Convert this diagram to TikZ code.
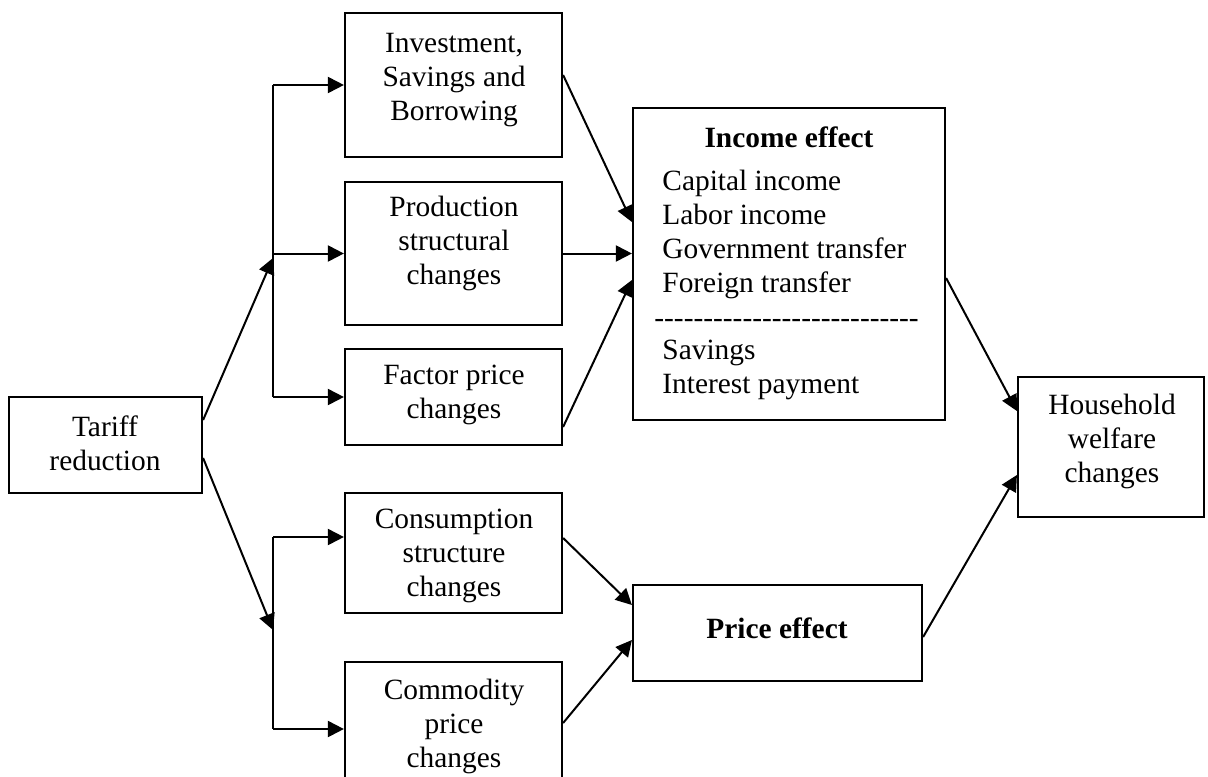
\documentclass[tikz,border=0pt]{standalone}
\usepackage{fontspec}
\setmainfont{Liberation Serif}
\usetikzlibrary{arrows.meta,fit}
\newcommand\hy{\hbox{-}}
\begin{document}
\begin{tikzpicture}[x=0.5pt,y=-0.5pt,
  box/.style={draw,line width=1.1pt,inner sep=0pt},
  lbl/.style={font=\fontsize{14.7}{17}\selectfont,align=center,inner sep=0pt},
  lblL/.style={font=\fontsize{14.7}{17}\selectfont,align=left,inner sep=0pt,anchor=west},
  ln/.style={line width=1pt},
  arr/.style={line width=1pt,-{Triangle[length=8pt,width=8pt]}}]
\clip (0,0) rectangle (1208,776);
% boxes
\node[box,fit={(9,397)(202,493)}] (tar) {};
\node[box,fit={(345,13)(562,157)}] (inv) {};
\node[box,fit={(345,182)(562,325)}] (prod) {};
\node[box,fit={(345,349)(562,445)}] (fac) {};
\node[box,fit={(345,493)(562,613)}] (con) {};
\node[box,fit={(345,662)(562,800)}] (com) {};
\node[box,fit={(633,108)(945,420)}] (inc) {};
\node[box,fit={(633,585)(922,681)}] (pri) {};
\node[box,fit={(1018,377)(1204,517)}] (hh) {};
% texts
\node[lbl] (tart) at (105,443.5) {Tariff\\reduction};
\node[lbl] (invt) at (454,80) {Investment,\\Savings and\\Borrowing};
\node[lbl] (prodt) at (454,243) {Production\\structural\\changes};
\node[lbl] (fact) at (454,395) {Factor price\\changes};
\node[lbl] (cont) at (454,556) {Consumption\\structure\\changes};
\node[lbl] (comt) at (454,726) {Commodity\\price\\changes};
\node[lbl] (inch) at (789,137) {\textbf{Income effect}};
\node[lblL] (inc1) at (662,234) {Capital income\\Labor income\\Government transfer\\Foreign transfer};
\node[lbl,anchor=base west] (incd) at (654,327) {\hy\hy\hy\hy\hy\hy\hy\hy\hy\hy\hy\hy\hy\hy\hy\hy\hy\hy\hy\hy\hy\hy\hy\hy\hy\hy\hy};
\node[lblL] (inc2) at (662,370) {Savings\\Interest payment};
\node[lbl] (prit) at (777,628) {\textbf{Price effect}};
\node[lbl] (hht) at (1112,441) {Household\\welfare\\changes};
% trunk coordinates
\coordinate (trA) at (273,85);
\coordinate (trP) at (273,253.5);
\coordinate (trB) at (273,397);
\coordinate (trC) at (273,537);
\coordinate (trD) at (273,729);
\coordinate (tipU) at (273,258);
\coordinate (tipL) at (273,630);
% trunks
\draw[ln] (trA) -- (trB);
\draw[ln] (trC) -- (trD);
\draw[arr] (trA) -- (inv.west |- trA);
\draw[arr] (trP) -- (prod.west |- trP);
\draw[arr] (trB) -- (fac.west |- trB);
\draw[arr] (trC) -- (con.west |- trC);
\draw[arr] (trD) -- (com.west |- trD);
% from tariff
\draw[arr] ([yshift=12.5pt]tar.east) -- (tipU);
\draw[arr] ([yshift=-6.5pt]tar.east) -- (tipL);
% to income
\draw[arr] ([yshift=5pt]inv.east) -- ([yshift=21pt]inc.west);
\draw[arr] (prod.east) -- (inc.west |- prod.east);
\draw[arr] ([yshift=-15pt]fac.east) -- ([yshift=-8pt]inc.west);
% to price
\draw[arr] ([yshift=7.5pt]con.east) -- ([yshift=14pt]pri.west);
\draw[arr] ([yshift=4pt]com.east) -- ([yshift=-3.5pt]pri.west);
% to household
\draw[arr] ([yshift=-7pt]inc.east) -- ([yshift=18pt]hh.west);
\draw[arr] ([yshift=-2pt]pri.east) -- ([yshift=-14pt]hh.west);
\end{tikzpicture}
\end{document}
